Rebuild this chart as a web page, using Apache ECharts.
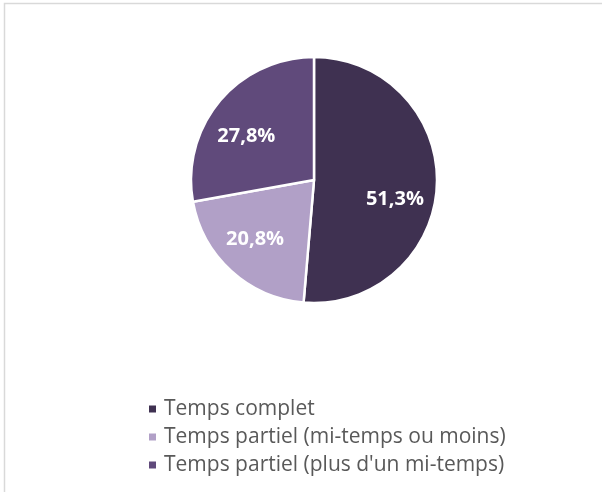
<!DOCTYPE html>
<html lang="fr">
<head>
<meta charset="UTF-8">
<script src="https://cdn.jsdelivr.net/npm/echarts@6/dist/echarts.min.js"></script>
<style>
  html, body { margin: 0; padding: 0; background: #fff; }
  #chart { width: 602px; height: 492px; }
</style>
</head>
<body>
<div id="chart"></div>
<script>
// catégories et valeurs (%)
var categories = ['Temps complet', 'Temps partiel (mi-temps ou moins)', "Temps partiel (plus d'un mi-temps)"];
var values = [51.3, 20.8, 27.8];
var colors = ['#3f3151', '#b1a0c7', '#604a7b'];
// décalage des étiquettes (px)
var labelOffsets = [[-2, 16], [-3, -2], [-4, 10]];

var chart = echarts.init(document.getElementById('chart'));

var pieData = categories.map(function (name, i) {
    return { name: name, value: values[i], itemStyle: { color: colors[i] } };
});

chart.setOption({
    backgroundColor: '#fff',
    animation: false,
    graphic: [{
        type: 'rect',
        shape: { x: 4.5, y: 3.5, width: 700, height: 600 },
        style: { fill: 'none', stroke: '#d9d9d9', lineWidth: 1.5 },
        silent: true
    }],
    legend: {
        orient: 'vertical',
        left: 147,
        top: 398,
        padding: 0,
        icon: 'rect',
        itemWidth: 9,
        itemHeight: 9,
        itemGap: 6,
        data: categories,
        textStyle: {
            fontFamily: 'Open Sans',
            fontSize: 21,
            lineHeight: 22,
            color: '#595959',
            padding: [0, 0, 0, 2]
        }
    },
    series: [
        {
            // les parts
            type: 'pie',
            center: [314, 180],
            radius: [0, 123],
            startAngle: 90,
            clockwise: true,
            silent: true,
            label: { show: false },
            labelLine: { show: false },
            itemStyle: { borderColor: '#fff', borderWidth: 2.5 },
            data: pieData
        },
        {
            // étiquettes seulement (anneau transparent pour placer le texte plus loin du centre)
            type: 'pie',
            center: [314, 180],
            radius: [37, 123],
            startAngle: 90,
            clockwise: true,
            silent: true,
            itemStyle: { color: 'rgba(0,0,0,0)' },
            labelLine: { show: false },
            label: {
                show: true,
                position: 'inside',
                color: '#fff',
                fontFamily: 'Open Sans',
                fontWeight: 'bold',
                fontSize: 20,
                formatter: function (p) {
                    return p.value.toFixed(1).replace('.', ',') + '%';
                }
            },
            data: categories.map(function (name, i) {
                return { name: name, value: values[i], label: { offset: labelOffsets[i] } };
            })
        }
    ]
});
</script>
</body>
</html>
